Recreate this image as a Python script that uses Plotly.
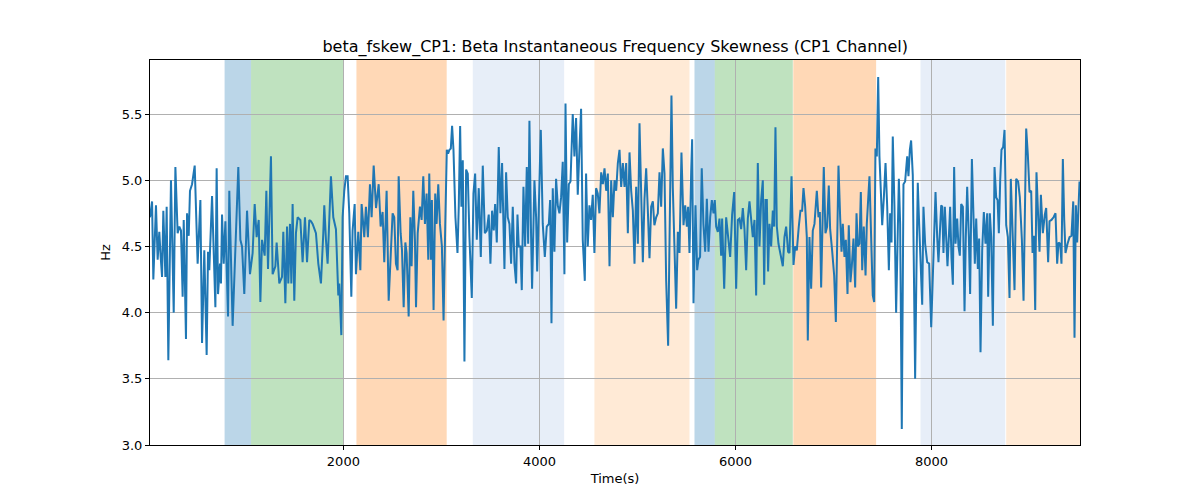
import plotly.graph_objects as go

# Time (s) and skewness values
time_s = [27,48,61,88,105,122,136,150,163,184,197,214,241,269,286,309,326,343,360,371,394,405,422,435,456,483,513,541,558,581,605,619,632,660,694,707,721,741,751,762,779,796,823,836,870,904,928,949,966,989,1017,1047,1074,1095,1115,1136,1153,1170,1197,1214,1231,1261,1278,1306,1319,1346,1374,1387,1408,1425,1438,1455,1469,1482,1499,1516,1533,1561,1584,1608,1629,1652,1669,1686,1720,1744,1771,1795,1805,1822,1839,1873,1897,1924,1948,1958,1979,1992,2009,2026,2043,2060,2081,2094,2115,2128,2152,2173,2186,2213,2230,2250,2271,2288,2309,2333,2360,2380,2400,2417,2441,2462,2485,2502,2519,2536,2553,2564,2584,2598,2615,2632,2645,2666,2683,2696,2713,2730,2741,2758,2781,2798,2815,2832,2849,2866,2876,2893,2903,2920,2937,2951,2968,2985,3005,3022,3039,
          3055,3068,3082,3096,3109,3123,3143,3164,3177,3191,3204,3218,3235,3252,3269,3286,3310,3327,3344,3361,3381,3402,3422,3443,3463,3483,3500,3517,3534,3548,3565,3585,3602,3619,3643,3660,3677,3694,3711,3728,3745,3762,3776,3789,3806,3820,3837,3854,3871,3885,3898,3915,3925,3949,3966,3977,3993,4014,4034,4055,4075,4096,4109,4123,4136,4153,4170,4187,4204,4221,4238,4255,4266,4283,4300,4317,4340,4357,4374,4391,4408,4425,4442,4463,4476,4493,4510,4527,4544,4561,4578,4595,4612,4630,4647,4664,4681,4698,4715,4732,4749,4766,4783,4800,4817,4834,4851,4868,4885,4902,4919,4936,4953,4970,4987,5004,5021,5038,5055,5072,5089,5106,5123,5140,5157,5173,5191,5208,5225,5242,5259,5276,5293,5313,5330,5347,5361,5378,5395,5412,5429,5449,5470,5487,5504,5517,5531,5548,5558,5572,5592,5609,5622,5639,5656,5673,5691,5708,5725,5742,5759,5776,5789,5803,5820,5837,5854,5864,5885,5905,5925,5946,5966,5987,6007,6024,6041,6058,6075,6092,6109,6126,6143,6160,6177,6194,6211,6228,6245,
          6262,6279,6293,6306,6320,6333,6347,6364,6381,6395,6408,6422,6439,6459,6483,6500,6517,6537,6551,6572,6592,6609,6626,6646,6663,6680,6694,6711,6728,6738,6755,6772,6789,6806,6830,6847,6861,6874,6891,6901,6918,6935,6952,6966,6986,7007,7024,7037,7051,7068,7082,7095,7112,7126,7143,7156,7173,7187,7204,7221,7235,7248,7265,7279,7293,7309,7327,7340,7367,7388,7401,7415,7428,7442,7456,7469,7483,7497,7514,7531,7548,7565,7578,7592,7605,7622,7639,7653,7667,7680,7697,7714,7731,7752,7765,7779,7792,7809,7823,7833,7847,7860,7874,7888,7905,7918,7935,7956,7976,7997,8014,8027,8041,8058,8071,8085,8099,8109,8122,8136,8150,8163,8177,8190,8204,8218,8231,8245,8262,8275,8289,8303,8320,8337,8350,8364,8381,8394,8412,8429,8442,8456,8473,8486,8500,8517,8534,8551,8568,8578,8595,8609,8626,8643,8660,8674,8687,8701,8714,8731,8745,8762,8779,8796,8809,8830,8847,8864,8884,8901,8922,8939,8952,8966,8983,9000,9017,9031,9044,9058,9071,9085,9102,9116,9136,9156,9170,9190,9204,9224,9245,9265,9282,9296,9313,9326,9340,9354,9367,9388,9408,9428,9446,9459,9473,9486,9500,9510]

skew_hz = [4.72,4.84,4.25,4.81,4.40,4.61,4.42,4.27,4.77,4.27,4.80,3.64,5.00,4.00,5.10,4.60,4.65,4.62,4.12,4.70,3.80,4.75,4.58,4.92,4.97,5.11,4.37,4.85,3.77,4.47,3.68,4.46,4.32,4.88,4.04,5.09,4.14,4.37,4.22,4.74,4.37,4.69,3.97,4.92,3.90,4.69,5.10,4.55,4.50,4.14,4.77,4.29,4.45,4.82,4.57,4.70,4.08,4.55,4.43,4.92,4.33,5.18,4.29,4.35,4.53,4.22,4.27,4.61,4.07,4.65,4.22,4.67,4.22,4.82,4.09,4.60,4.72,4.70,4.38,4.72,4.38,4.70,4.69,4.67,4.60,4.37,4.22,4.60,4.81,4.55,4.37,5.03,4.72,4.63,4.13,4.22,3.83,4.72,4.92,5.03,5.03,4.75,4.12,4.62,4.82,4.29,4.61,4.32,4.82,4.57,4.80,4.57,4.97,4.72,5.11,4.79,4.97,4.65,4.76,4.38,4.92,4.09,4.45,4.75,4.72,4.37,4.32,5.03,4.60,4.47,4.04,4.53,4.45,3.97,4.72,4.35,4.92,4.55,4.04,4.60,4.80,4.70,5.03,4.67,4.90,4.40,5.05,4.40,4.85,4.02,4.90,4.67,4.97,4.67,4.50,3.94,4.65,
           5.23,5.20,5.23,5.24,5.41,5.23,4.72,4.45,4.80,5.41,4.80,5.15,3.63,5.08,5.05,4.57,4.11,4.90,5.05,4.55,4.94,4.42,5.11,4.60,4.62,4.74,4.37,4.77,4.62,4.82,4.53,5.25,4.75,5.13,4.33,5.06,4.72,4.67,4.37,4.80,4.37,4.22,4.74,4.50,4.50,4.17,4.95,4.50,5.10,4.52,5.45,4.57,4.18,5.00,4.72,4.31,4.72,5.38,4.67,4.42,4.65,4.67,4.85,3.92,4.94,4.46,5.01,4.81,4.75,4.87,5.14,4.29,5.58,4.53,4.97,4.99,5.50,5.18,5.47,4.89,5.23,5.54,4.55,4.24,5.05,4.50,4.81,4.70,4.89,4.45,4.94,4.90,4.75,5.06,4.97,5.09,4.92,5.05,4.35,5.00,4.72,5.00,4.92,5.13,5.23,4.95,5.13,4.95,5.13,4.60,5.21,4.92,4.77,4.37,4.95,4.52,5.43,4.95,4.38,4.86,5.09,4.77,4.41,4.80,4.84,4.66,4.72,4.75,5.06,4.80,5.24,5.05,4.24,3.75,4.90,5.64,4.94,4.52,4.03,4.61,4.45,5.21,4.66,4.81,4.65,4.80,4.45,5.06,5.31,4.07,4.81,4.32,4.40,4.42,5.09,4.67,4.46,4.86,4.46,4.72,4.85,4.75,4.85,4.65,4.61,4.71,4.43,4.71,4.18,4.72,4.55,4.42,4.74,4.91,4.18,4.70,4.71,4.63,4.79,4.63,4.32,4.71,4.84,4.71,4.57,4.70,4.13,5.13,4.50,
           4.85,5.00,4.21,4.85,4.85,4.31,4.67,4.50,4.77,4.65,5.40,4.65,4.52,4.43,4.35,4.57,4.65,4.46,4.45,5.03,4.36,4.50,4.47,4.65,4.77,4.77,4.94,4.80,4.57,3.79,4.57,4.18,4.62,4.67,4.92,4.72,4.76,4.19,4.86,5.10,4.60,4.65,4.96,4.63,4.47,4.28,3.93,4.60,5.11,4.72,4.46,4.67,4.42,4.55,4.14,4.66,4.23,4.35,4.56,4.19,4.75,4.50,4.52,4.91,4.32,4.65,4.28,4.67,5.03,4.47,4.13,4.08,5.24,5.18,5.78,5.18,4.92,4.66,4.87,5.13,4.80,4.32,4.75,4.53,5.33,4.80,4.00,4.47,5.01,4.67,3.12,4.97,4.99,5.18,5.03,5.23,5.30,5.04,4.17,3.50,4.35,4.98,4.67,4.32,4.06,4.80,4.52,4.38,4.37,3.89,4.29,4.72,4.91,4.57,4.38,4.60,4.81,4.80,4.45,4.80,4.57,4.35,4.57,4.80,4.41,4.21,5.10,4.52,4.71,4.50,4.43,4.82,4.80,4.01,4.57,4.95,4.57,4.14,5.16,4.63,4.37,4.71,4.33,4.56,3.70,4.47,4.76,4.52,4.75,4.12,4.75,4.57,3.90,5.10,4.87,4.85,4.60,5.00,5.23,5.25,5.38,4.66,4.57,4.11,5.01,4.55,4.17,5.01,4.99,4.87,4.55,4.09,4.69,5.39,5.19,4.91,4.92,4.45,4.58,4.02,5.06,4.75,4.46,4.89,4.60,4.74,4.79,4.38,4.69,4.70,4.72,4.75,4.37,4.53,4.52,4.37,5.16,4.70,4.45,4.52,4.57,4.58,4.84,3.81,4.81,4.53,4.81,4.99]

# Shaded state intervals (start, end, colour)
band_start = [788, 1058, 2133, 3320, 4561, 5582, 5789, 6590, 7888, 8762]
band_end = [1058, 2000, 3054, 4252, 5531, 5789, 6585, 7435, 8752, 9515]
band_color = ["rgba(31,119,180,0.3)", "rgba(44,160,44,0.3)", "rgba(255,127,14,0.3)",
              "rgba(174,199,232,0.3)", "rgba(255,187,120,0.3)", "rgba(31,119,180,0.3)",
              "rgba(44,160,44,0.3)", "rgba(255,127,14,0.3)", "rgba(174,199,232,0.3)",
              "rgba(255,187,120,0.3)"]

x_ticks = [2000, 4000, 6000, 8000]
y_ticks = [3.0, 3.5, 4.0, 4.5, 5.0, 5.5]

fig = go.Figure()
fig.add_trace(go.Scatter(x=time_s, y=skew_hz, mode="lines",
                         line=dict(color="#1f77b4", width=2), showlegend=False))

for s, e, c in zip(band_start, band_end, band_color):
    fig.add_vrect(x0=s, x1=e, fillcolor=c, line_width=0, layer="below")

font = "DejaVu Sans, Liberation Sans, sans-serif"
fig.update_layout(
    width=1200, height=500,
    paper_bgcolor="white", plot_bgcolor="white",
    margin=dict(l=142, r=128, t=52, b=63),
    title=dict(text="beta_fskew_CP1: Beta Instantaneous Frequency Skewness (CP1 Channel)",
               x=0.506, xanchor="center", y=0.924, yanchor="middle",
               font=dict(family=font, size=16, color="black")),
    font=dict(family=font, size=13, color="black"),
)
fig.update_xaxes(range=[27, 9515], tickvals=x_ticks, ticktext=[str(v) for v in x_ticks],
                 showgrid=True, gridcolor="#b0b0b0", gridwidth=1,
                 showline=True, linecolor="black", linewidth=1, mirror=True,
                 ticks="outside", ticklen=4, tickcolor="black", zeroline=False,
                 title=dict(text="Time(s)", font=dict(size=13), standoff=6))
fig.update_yaxes(range=[3.0, 5.908], tickvals=y_ticks, ticktext=[f"{v:.1f}" for v in y_ticks],
                 showgrid=True, gridcolor="#b0b0b0", gridwidth=1,
                 showline=True, linecolor="black", linewidth=1, mirror=True,
                 ticks="outside", ticklen=4, tickcolor="black", zeroline=False,
                 title=dict(text="Hz", font=dict(size=13), standoff=8))

fig.write_html("out.html")
